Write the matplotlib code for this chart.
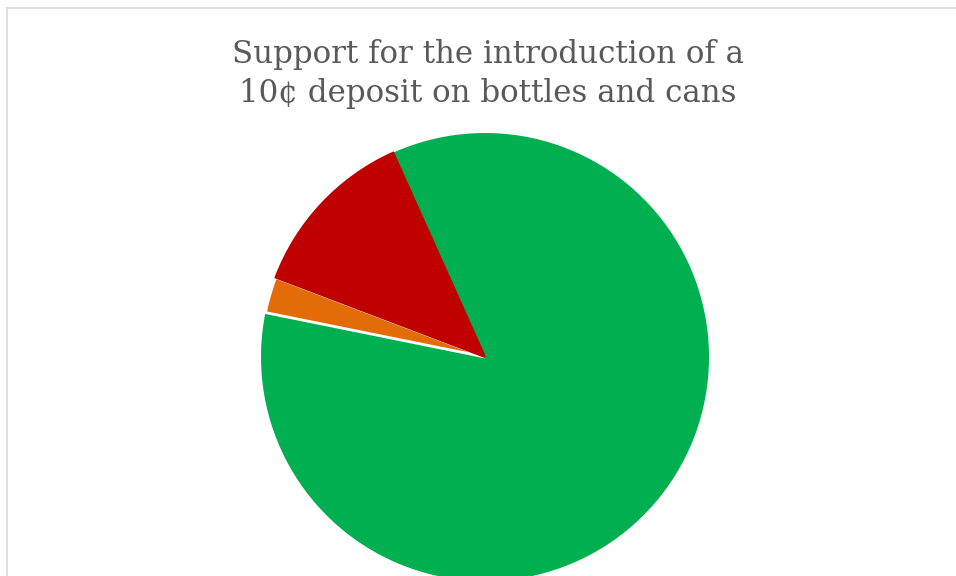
import matplotlib
matplotlib.use("Agg")
import matplotlib.pyplot as plt
from matplotlib.lines import Line2D

# answer categories and shares (percent), in drawing order
categories = ["Support", "Don't know", "Oppose"]
shares = [84.9, 2.6, 12.5]
colours = ["#00B050", "#E36C09", "#C00000"]

title = "Support for the introduction of a\n10¢ deposit on bottles and cans"

W, H = 956, 576
fig = plt.figure(figsize=(W / 100, H / 100), dpi=100)

# pie centre and radius in pixels
cx, cy, r = 485, 357, 224
ax = fig.add_axes([(cx - r) / W, (H - cy - r) / H, 2 * r / W, 2 * r / H])

wedges, _ = ax.pie(shares, colors=colours, startangle=114.2, counterclock=False,
                   radius=1.0, wedgeprops=dict(linewidth=0))
# white gap between green and orange, red covers its own edge
wedges[1].set_edgecolor("white")
wedges[1].set_linewidth(2)
wedges[2].set_edgecolor(colours[2])
wedges[2].set_linewidth(1.5)
ax.set_xlim(-1, 1)
ax.set_ylim(-1, 1)
ax.set_aspect("equal")
ax.axis("off")

fig.text(488 / W, 1 - 74 / H, title, ha="center", va="center",
         fontsize=22.2, color="#595959", family="DejaVu Serif", linespacing=1.32)

# chart frame (only top and left edges show)
fig.add_artist(Line2D([7 / W, 7 / W], [0, 1 - 8 / H], color="#D9D9D9", lw=1.2))
fig.add_artist(Line2D([7 / W, 1], [1 - 8 / H, 1 - 8 / H], color="#D9D9D9", lw=1.2))

fig.savefig("out.png", dpi=100)
